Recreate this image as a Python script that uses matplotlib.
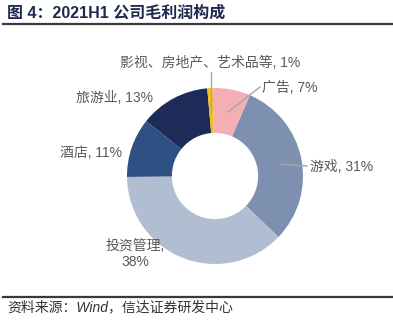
import matplotlib
matplotlib.use("Agg")
import matplotlib.pyplot as plt
from matplotlib.lines import Line2D

# Gross profit composition, 2021H1 (%)
categories = ["广告", "游戏", "投资管理", "酒店", "旅游业", "影视、房地产、艺术品等"]
shares = [7, 31, 38, 11, 13, 1]
colors = ["#F4AFB4", "#7E90AF", "#B1BED1", "#2F5082", "#1C2B58", "#F6BE1A"]

title = "图 4：2021H1 公司毛利润构成"
source = "资料来源：Wind，信达证券研发中心"

W, H = 393, 325
fig = plt.figure(figsize=(W / 100, H / 100), dpi=100)
fig.patch.set_facecolor("white")

FONT = ["Liberation Sans", "Noto Sans CJK SC"]
LABEL_COLOR = "#595959"

# Donut axes: centre (215, 176) px, radius 88 px
cx, cy, r = 215, 176, 88
ax = fig.add_axes([(cx - r) / W, (H - cy - r) / H, 2 * r / W, 2 * r / H])
wedges, _ = ax.pie(shares, colors=colors, startangle=91.5, counterclock=False,
                   radius=1.0, wedgeprops=dict(width=0.51, linewidth=0))
ax.set_xlim(-1, 1)
ax.set_ylim(-1, 1)
ax.axis("off")


def px(x, y):
    """Pixel position -> donut data coordinates."""
    return (x - cx) / r, (cy - y) / r


def label(text, pos, ha="center", va="center"):
    x, y = px(*pos)
    ax.text(x, y, text, ha=ha, va=va, fontsize=10, color=LABEL_COLOR,
            family=FONT, clip_on=False, linespacing=1.25)


def leader(p0, p1):
    x0, y0 = px(*p0)
    x1, y1 = px(*p1)
    ax.add_line(Line2D([x0, x1], [y0, y1], color="#A6A6A6", lw=1.0,
                       clip_on=False))


pct = [f"{v}%" for v in shares]

label(f"{categories[5]}, {pct[5]}", (210, 63))
leader((211, 72), (211, 112))

label(f"{categories[0]}, {pct[0]}", (262, 88), ha="left")
leader((260, 87), (228, 112))

label(f"{categories[1]}, {pct[1]}", (310, 167), ha="left")
leader((280, 164), (307, 166))

label(f"{categories[2]},\n{pct[2]}", (135, 254))
label(f"{categories[3]}, {pct[3]}", (91, 153))
label(f"{categories[4]}, {pct[4]}", (115, 98))

# Header and footer
fig.text(7 / W, 1 - 13 / H, title, ha="left", va="center", fontsize=11.5,
         fontweight="bold", color="#1F2A4F", family=FONT)
fig.add_artist(Line2D([3 / W, 1], [1 - 24 / H, 1 - 24 / H], color="#3A3A3A",
                      lw=1.6, transform=fig.transFigure))
fig.add_artist(Line2D([3 / W, 1], [1 - 297 / H, 1 - 297 / H], color="#3A3A3A",
                      lw=1.6, transform=fig.transFigure))
fig.text(7 / W, 1 - 307 / H, source, ha="left", va="center", fontsize=10,
         style="italic", color="#333333", family=FONT)

fig.savefig("out.png", dpi=100, facecolor="white")
